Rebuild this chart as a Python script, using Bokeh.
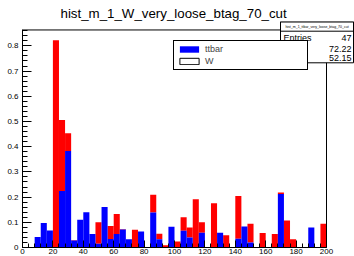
from bokeh.plotting import figure
from bokeh.models import (ColumnDataSource, Range1d, SingleIntervalTicker, CustomJSTickFormatter,
                          BoxAnnotation, Label, Legend, LegendItem)
from bokeh.embed import file_html
from bokeh.resources import INLINE

# ---------------- data ----------------
bin_low = [0, 4, 8, 12, 16, 20, 24, 28, 32, 36, 40, 44, 48, 52, 56, 60, 64, 68, 72, 76,
           80, 84, 88, 92, 96, 100, 104, 108, 112, 116, 120, 124, 128, 132, 136, 140, 144, 148, 152, 156,
           160, 164, 168, 172, 176, 180, 184, 188, 192, 196]
ttbar = [0, 0, 0.042, 0.097, 0.067, 0, 0.224, 0.383, 0.028, 0.110, 0.140, 0.054, 0.015, 0.161, 0.034,
         0.054, 0.071, 0.033, 0, 0.063, 0, 0.139, 0.033, 0, 0.082, 0, 0.066, 0.040, 0, 0.059,
         0, 0, 0.059, 0, 0, 0.035, 0.083, 0.020, 0, 0, 0, 0, 0.212, 0, 0, 0, 0, 0.079, 0, 0]
w_vals = [0, 0, 0, 0, 0, 0.822, 0.282, 0.070, 0.002, 0, 0, 0, 0.085, 0, 0.051,
          0.079, 0.002, 0, 0.070, 0, 0, 0.070, 0.022, 0.009, 0, 0.024, 0.054, 0.039, 0.191, 0.041,
          0, 0.176, 0, 0.049, 0, 0.169, 0, 0.074, 0, 0.058, 0, 0.054, 0.006, 0.107, 0.033, 0, 0, 0, 0, 0.094]
series_names = ["ttbar", "W"]
title_text = "hist_m_1_W_very_loose_btag_70_cut"
stats_name = "hist_m_1_ttbar_very_loose_btag_70_cut"
stats_entries = "47"
stats_mean = "72.22"
stats_rms = "52.15"
x_min, x_max = 0, 200
bin_width = 4

# ---------------- layout (pixels) ----------------
W, H = 354, 256
FL, FT, FB, FR = 22, 21, 248, 354        # plotting frame in canvas px
HIST_TOP, HIST_RIGHT = 29.5, 326         # where the ROOT frame ends
FONT = "Liberation Sans"

centers = [b + bin_width / 2 for b in bin_low]
total = [t + w for t, w in zip(ttbar, w_vals)]
ymax = max(total) * 1.05
src = ColumnDataSource(dict(x=centers, ttbar=ttbar, total=total))

x_end = x_max + (FR - HIST_RIGHT) * (x_max - x_min) / (HIST_RIGHT - FL)
y_end = ymax * (FB - FT) / (FB - HIST_TOP)

p = figure(width=W, height=H, output_backend="svg", toolbar_location=None,
           x_range=Range1d(x_min, x_end), y_range=Range1d(0, y_end),
           min_border_left=FL, min_border_right=W - FR, min_border_top=FT, min_border_bottom=H - FB,
           background_fill_color="white", border_fill_color="white", outline_line_color=None)
p.grid.visible = False

p.title.text = title_text
p.title.align = "left"
p.title.offset = 60 - FL
p.title.standoff = 2
p.title.text_font = FONT
p.title.text_font_size = "13.3px"
p.title.text_font_style = "normal"
p.title.text_color = "black"

p.vbar(x="x", width=bin_width, bottom="ttbar", top="total", source=src,
       fill_color="#ff0000", line_color=None)
r_tt = p.vbar(x="x", width=bin_width, bottom=0, top="ttbar", source=src,
              fill_color="#0000ff", line_color=None)
# legend swatch for W (ROOT draws it hollow)
r_w = p.vbar(x=[x_min], width=bin_width, top=[0], bottom=[0], fill_color="white",
             line_color="black", line_width=1)

for ax in (p.xaxis[0], p.yaxis[0]):
    ax.axis_line_color = "black"
    ax.major_tick_line_color = "black"
    ax.minor_tick_line_color = "black"
    ax.major_tick_out = 0
    ax.minor_tick_out = 0
    ax.major_label_text_font = FONT
    ax.major_label_text_font_size = "8px"
    ax.major_label_text_color = "black"
p.xaxis.ticker = SingleIntervalTicker(interval=20, num_minor_ticks=5)
p.yaxis.ticker = SingleIntervalTicker(interval=0.1, num_minor_ticks=5)
p.yaxis.formatter = CustomJSTickFormatter(code="return String(Math.round(tick*10)/10);")
p.xaxis.bounds = (x_min, x_max)
p.yaxis.bounds = (0, ymax)
p.xaxis.major_tick_in = 7
p.xaxis.minor_tick_in = 4
p.yaxis.major_tick_in = 9
p.yaxis.minor_tick_in = 5
p.xaxis.major_label_standoff = 1
p.yaxis.major_label_standoff = 4

def sx(ax_):
    return ax_ - FL

def sy(ay):
    return FB - ay

frame = BoxAnnotation(left=x_min, right=x_max, bottom=0, top=ymax, fill_color=None,
                      line_color="black", line_alpha=1, line_width=1, level="guide")
p.add_layout(frame)

box_kw = dict(left_units="screen", right_units="screen", top_units="screen", bottom_units="screen",
              line_color="black", line_alpha=1, line_width=1, level="annotation")
p.add_layout(BoxAnnotation(left=sx(280), right=sx(353), top=sy(22.3), bottom=sy(63.3),
                           fill_color="white", fill_alpha=1, **box_kw))
p.add_layout(BoxAnnotation(left=sx(280), right=sx(353), top=sy(22.3), bottom=sy(31.7),
                           fill_color=None, **box_kw))

def lab(x, y, t, align, size):
    p.add_layout(Label(x=sx(x), y=sy(y), x_units="screen", y_units="screen", text=t,
                       text_align=align, text_baseline="middle", text_font=FONT,
                       text_font_size=size, text_color="black", level="overlay"))

lab(316.5, 27, stats_name, "center", "3.5px")
lab(283, 38, "Entries", "left", "9px")
lab(351, 38, stats_entries, "right", "9px")
lab(351, 49.3, stats_mean, "right", "9px")
lab(351, 58.3, stats_rms, "right", "9px")

legend = Legend(items=[LegendItem(label=series_names[0], renderers=[r_tt]),
                       LegendItem(label=series_names[1], renderers=[r_w])],
                location=(sx(173), sy(71)), margin=0, padding=3, spacing=2,
                glyph_width=24, glyph_height=8, label_width=99, label_height=10, label_standoff=4,
                label_text_font=FONT, label_text_font_size="9px", label_text_baseline="middle",
                border_line_color="black", border_line_width=1, border_line_alpha=1,
                background_fill_color="white", background_fill_alpha=1, level="overlay")
p.add_layout(legend)

open("out.html", "w").write(file_html(p, INLINE))
